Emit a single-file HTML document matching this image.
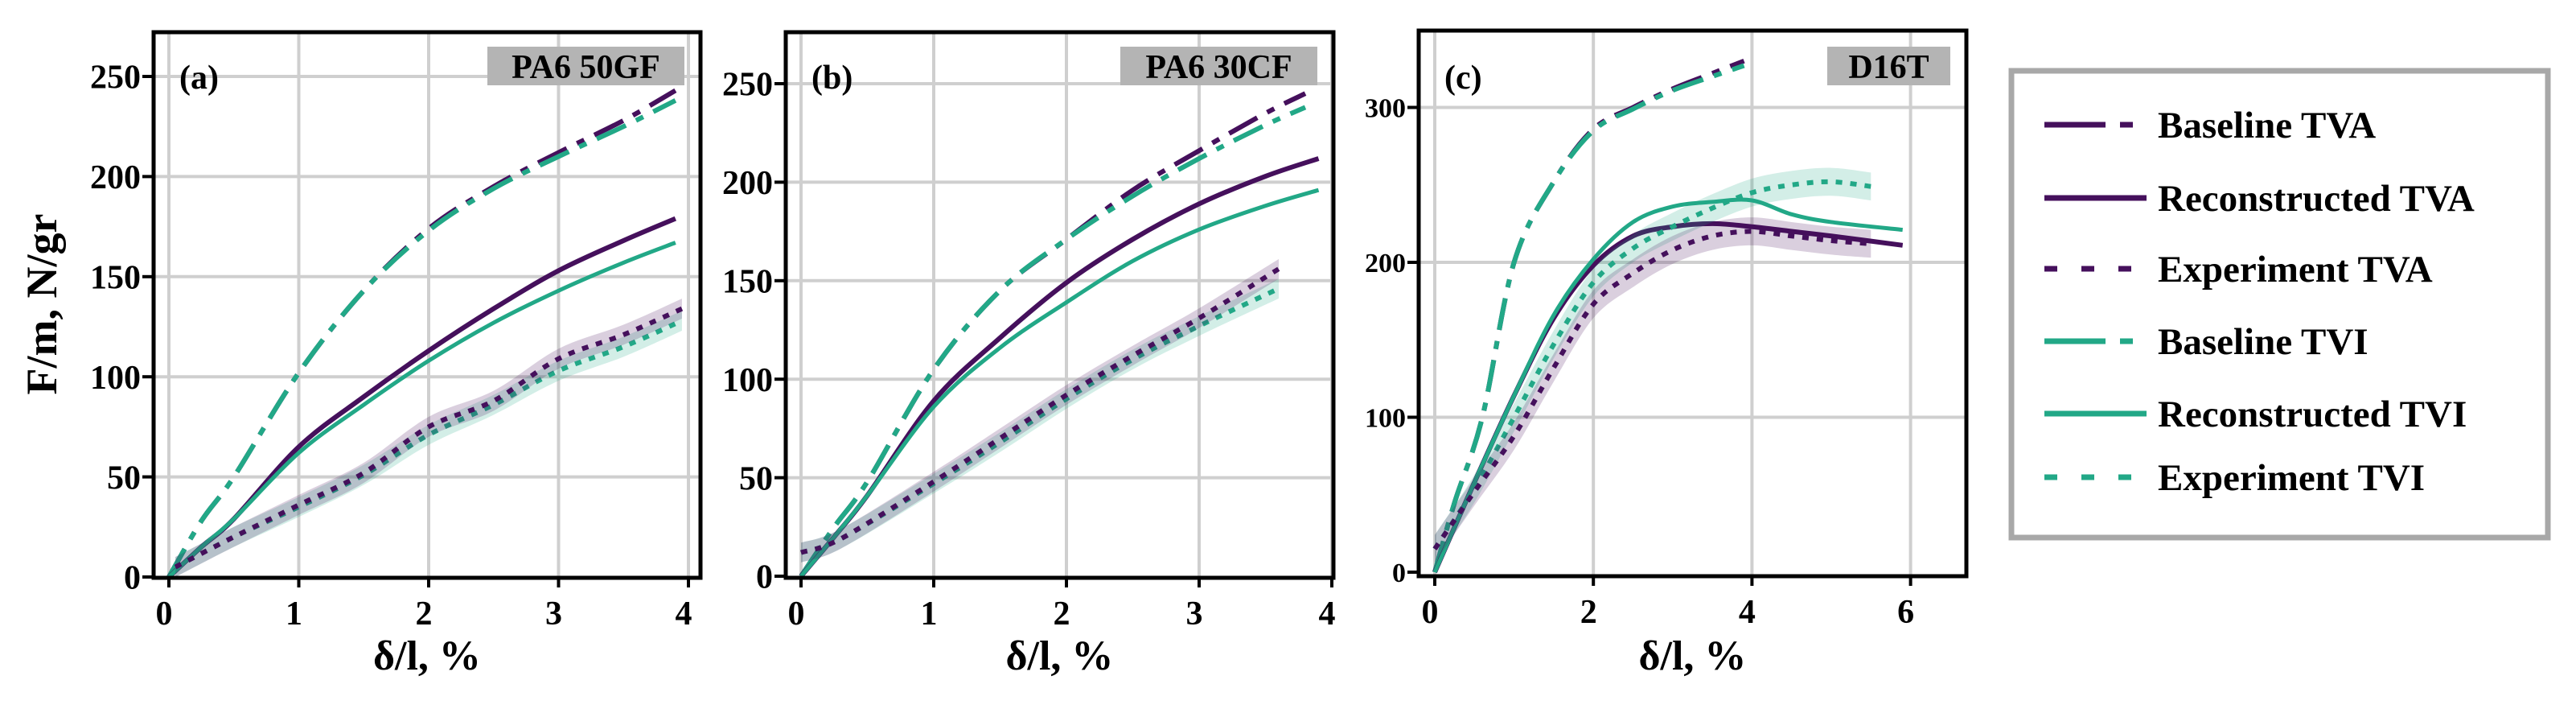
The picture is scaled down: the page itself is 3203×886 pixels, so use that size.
<!DOCTYPE html>
<html><head><meta charset="utf-8">
<style>
html,body{margin:0;padding:0;background:#fff;}
svg{display:block;}
text{font-family:"Liberation Serif",serif;}
</style></head>
<body>
<svg id="chart" width="3203" height="886" viewBox="0 0 3203 886" xmlns="http://www.w3.org/2000/svg">
  <g id="panels"></g>
  <g id="legend">
    <rect x="2501" y="88" width="667" height="580" fill="#fff" stroke="#a8a8a8" stroke-width="7"/>
  </g>
</svg>
<script>
// ---- data ----
const aBaseTVA_x=[0,0.25,0.5,1,1.5,2,2.5,3,3.5,3.9];
const aBaseTVA_y=[0,28,50,102,143,174,195,212,228,243];
const aBaseTVI_y=[0,28,50,102,143,173,194,210,225,238];
const aRecX=[0,0.25,0.5,1,1.5,2,2.5,3,3.5,3.9];
const aRecTVA_y=[0,15,29,65,90,113,134,153,168,179];
const aRecTVI_y=[0,15,29,62,86,108,127,143,157,167];
const aExpX=[0.05,0.5,1,1.5,2,2.5,3,3.5,3.95];
const aExpTVA_y=[5,20,36,52,75,88,109,121,134];
const aExpTVI_y=[5,20,35,51,71,86,103,115,128];

const bBaseX=[0,0.25,0.5,1,1.5,2,2.5,3,3.5,3.8];
const bBaseTVA_y=[0,25,48,105,145,171,196,216,235,245];
const bBaseTVI_y=[0,25,48,105,145,171,193,212,229,238];
const bRecX=[0,0.25,0.5,1,1.5,2,2.5,3,3.5,3.9];
const bRecTVA_y=[0,20,41,89,121,149,171,189,203,212];
const bRecTVI_y=[0,20,41,86,116,139,160,176,188,196];
const bExpX=[0,0.3,1,1.5,2,2.5,3,3.6];
const bExpTVA_y=[12,19,48,70,92,112,131,156];
const bExpTVI_y=[12,19,47,68,90,110,127,146];

const cBaseX=[0,0.25,0.6,1,1.5,2,2.5,3,3.5,3.9];
const cBaseTVA_y=[0,45,100,200,252,286,300,312,322,330];
const cBaseTVI_y=[0,45,100,200,252,285,299,311,320,327];
const cRecX=[0,0.5,1,1.5,2,2.5,3,3.5,4,4.5,5,5.9];
const cRecTVA_y=[0,58,114,164,198,217,223,225,223,220,217,211];
const cRecTVI_y=[0,58,114,166,202,226,236,239,240,231,226,221];
const cExpX=[0,0.5,1,1.5,2,2.5,3,3.5,4,4.5,5,5.5];
const cExpTVA_y=[15,52,88,132,173,193,208,217,220,217,214,212];
const cExpTVI_y=[15,54,100,147,187,209,223,235,245,250,252,249];

const xTicksAB=[0,1,2,3,4];
const yTicksAB=[0,50,100,150,200,250];
const xTicksC=[0,2,4,6];
const yTicksC=[0,100,200,300];

const PURPLE="#45105c", TEAL="#22a887";
const NS="http://www.w3.org/2000/svg";
const root=document.getElementById('panels');

function mk(tag,attrs,parent){const e=document.createElementNS(NS,tag);for(const k in attrs)e.setAttribute(k,attrs[k]);(parent||root).appendChild(e);return e;}

function smooth(pts){
  let d='M'+pts[0][0]+','+pts[0][1];
  for(let i=0;i<pts.length-1;i++){
    const p0=pts[Math.max(0,i-1)],p1=pts[i],p2=pts[i+1],p3=pts[Math.min(pts.length-1,i+2)];
    const c1x=p1[0]+(p2[0]-p0[0])/6,c1y=p1[1]+(p2[1]-p0[1])/6;
    const c2x=p2[0]-(p3[0]-p1[0])/6,c2y=p2[1]-(p3[1]-p1[1])/6;
    d+=' C'+c1x+','+c1y+' '+c2x+','+c2y+' '+p2[0]+','+p2[1];
  }
  return d;
}

function makePanel(cfg){
  const g=mk('g',{});
  
  
  const X=v=>cfg.x0+v*cfg.xs, Y=v=>cfg.y0-v*cfg.ys;
  cfg.xticks.forEach(t=>{const l=mk('line',{x1:X(t),x2:X(t),y1:cfg.top,y2:cfg.bottom,stroke:'#cfcfcf','stroke-width':4},g);
    });
  cfg.yticks.forEach(t=>{if(t===0)return;const l=mk('line',{x1:cfg.left,x2:cfg.right,y1:Y(t),y2:Y(t),stroke:'#cfcfcf','stroke-width':4},g);
    });
  cfg.series.forEach(s=>{
    if(s.band){
      const up=s.x.map((v,i)=>[X(v),Y(s.y[i]+s.band)]);
      const dn=s.x.map((v,i)=>[X(v),Y(s.y[i]-s.band)]).reverse();
      const d=smooth(up)+' L'+smooth(dn).slice(1)+' Z';
      const b=mk('path',{d:d,fill:s.color,opacity:0.2},g);
      
    }
    const p=mk('path',{d:smooth(s.x.map((v,i)=>[X(v),Y(s.y[i])])),fill:'none',stroke:s.color,'stroke-width':s.w||6,'stroke-linejoin':'round'},g);
    if(s.dash)p.setAttribute('stroke-dasharray',s.dash);
    
  });
  const fr=mk('rect',{x:cfg.left,y:cfg.top,width:cfg.right-cfg.left,height:cfg.bottom-cfg.top,fill:'none',stroke:'#000','stroke-width':5},g);
  
  cfg.xticks.forEach(t=>{
    mk('line',{x1:X(t),x2:X(t),y1:cfg.bottom,y2:cfg.bottom+12,stroke:'#000','stroke-width':4},g);
    const tx=mk('text',{x:X(t)-6,y:cfg.bottom+58,'text-anchor':'middle','font-size':42,'font-weight':'bold'},g);
    tx.textContent=t;
  });
  cfg.yticks.forEach(t=>{
    mk('line',{x1:cfg.left-14,x2:cfg.left,y1:Y(t),y2:Y(t),stroke:'#000','stroke-width':4},g);
    const tx=mk('text',{x:cfg.left-16,y:Y(t)+cfg.tfs*0.35,'text-anchor':'end','font-size':cfg.tfs,'font-weight':'bold'},g);
    tx.textContent=t;
  });
  const xt=mk('text',{x:(cfg.left+cfg.right)/2,y:832,'text-anchor':'middle','font-size':52,'font-weight':'bold'},g);
  xt.textContent='δ/l, %';
  const pl=mk('text',{x:cfg.left+32,y:110,'font-size':42,'font-weight':'bold'},g);
  pl.textContent=cfg.letter;
  const bx=mk('rect',{x:cfg.boxX,y:58,width:cfg.boxW,height:48,fill:'#b4b4b4'},g);
  
  const bt=mk('text',{x:cfg.boxX+cfg.boxW/2,y:97,'text-anchor':'middle','font-size':42,'font-weight':'bold'},g);
  bt.textContent=cfg.mat;
}

const DD='40 14 10 14', DOT='8 10';
function six(bx,btv,bti,rx,rtv,rti,ex,etv,eti,band){
  return [
    {name:'baseline-tva',x:bx,y:btv,color:PURPLE,dash:DD},
    {name:'baseline-tvi',x:bx,y:bti,color:TEAL,dash:DD},
    {name:'reconstructed-tva',x:rx,y:rtv,color:PURPLE},
    {name:'reconstructed-tvi',x:rx,y:rti,color:TEAL,w:5},
    {name:'experiment-tvi',x:ex,y:eti,color:TEAL,dash:DOT,band:band},
    {name:'experiment-tva',x:ex,y:etv,color:PURPLE,dash:DOT,band:band},
  ];
}
makePanel({name:'panel-a',left:191,right:871,top:40,bottom:718,x0:210,xs:161.5,y0:717,ys:2.488,xticks:xTicksAB,yticks:yTicksAB,tfs:42,letter:'(a)',mat:'PA6 50GF',boxX:606,boxW:245,
  series:six(aBaseTVA_x,aBaseTVA_y,aBaseTVI_y,aRecX,aRecTVA_y,aRecTVI_y,aExpX,aExpTVA_y,aExpTVI_y,5)});
makePanel({name:'panel-b',left:977,right:1658,top:40,bottom:718,x0:996,xs:165,y0:716,ys:2.448,xticks:xTicksAB,yticks:yTicksAB,tfs:42,letter:'(b)',mat:'PA6 30CF',boxX:1393,boxW:245,
  series:six(bBaseX,bBaseTVA_y,bBaseTVI_y,bRecX,bRecTVA_y,bRecTVI_y,bExpX,bExpTVA_y,bExpTVI_y,5)});
makePanel({name:'panel-c',left:1764,right:2445,top:38,bottom:716,x0:1784,xs:98.6,y0:711,ys:1.925,xticks:xTicksC,yticks:yTicksC,tfs:34,letter:'(c)',mat:'D16T',boxX:2272,boxW:153,
  series:six(cBaseX,cBaseTVA_y,cBaseTVI_y,cRecX,cRecTVA_y,cRecTVI_y,cExpX,cExpTVA_y,cExpTVI_y,9)});

const yt=mk('text',{x:0,y:0,'text-anchor':'middle','font-size':54,'font-weight':'bold',transform:'translate(70,378) rotate(-90)'});
yt.textContent='F/m, N/gr';



const legNames=['Baseline TVA','Reconstructed TVA','Experiment TVA','Baseline TVI','Reconstructed TVI','Experiment TVI'];
const legColors=[PURPLE,PURPLE,PURPLE,TEAL,TEAL,TEAL];
const legDash=['76 18 16 100','','16 30','76 18 16 100','','16 30'];
const legRowY=[155,246,334,424,514,593];
const lg=document.getElementById('legend');
legNames.forEach((n,i)=>{
  const y=legRowY[i];
  const l=mk('line',{x1:2542,x2:2669,y1:y,y2:y,stroke:legColors[i],'stroke-width':7},lg);
  if(legDash[i])l.setAttribute('stroke-dasharray',legDash[i]);
  
  
  const t=mk('text',{x:2683,y:y+16,'font-size':47,'font-weight':'bold'},lg);
  t.textContent=n;
  
  
});
</script>
</body></html>
